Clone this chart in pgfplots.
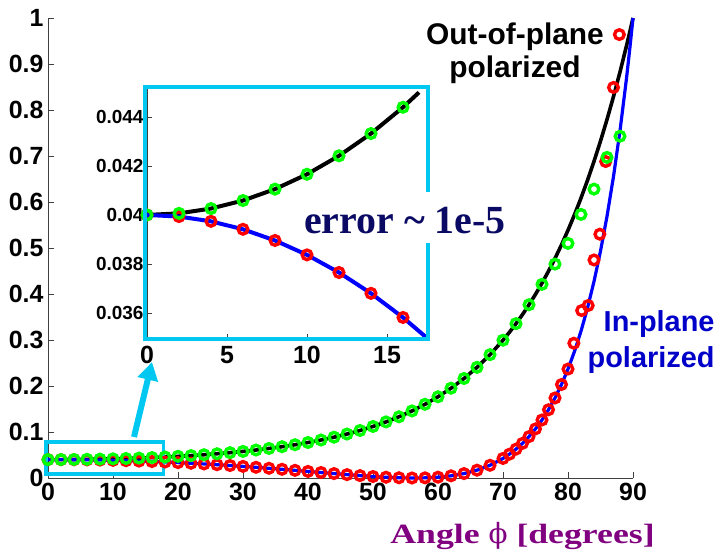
\documentclass[border=0pt]{standalone}
\usepackage{fontspec}
\setmainfont{Liberation Sans}
\newfontfamily\serif{Liberation Serif}
\newfontfamily\serifwide[FakeStretch=1.28]{Liberation Serif}
\newfontfamily\phifont{DejaVu Serif}
\usepackage{pgfplots}
\usepackage{pgfplotstable}
\pgfplotsset{compat=1.18}
\usetikzlibrary{arrows.meta}
\definecolor{cyanf}{RGB}{0,200,240}
\definecolor{navy}{RGB}{10,10,100}
\definecolor{purp}{RGB}{128,0,128}
\definecolor{inblue}{RGB}{0,0,200}
\definecolor{pgreen}{RGB}{0,255,0}
\definecolor{pred}{RGB}{255,0,0}
\definecolor{pblue}{RGB}{0,0,255}

% analytic out-of-plane (s) reflectance
\pgfplotstableread[row sep=\\]{
x y\\
0 0.04\\ 2 0.040065\\ 4 0.040261\\ 6 0.040589\\ 8 0.041054\\ 10 0.041660\\
12 0.042412\\ 14 0.043320\\ 16 0.044393\\ 18 0.045641\\ 20 0.047081\\
22 0.048727\\ 24 0.050598\\ 26 0.052715\\ 28 0.055105\\ 30 0.057796\\
32 0.060823\\ 34 0.064224\\ 36 0.068045\\ 38 0.072336\\ 40 0.077158\\
42 0.082579\\ 44 0.088681\\ 46 0.095552\\ 48 0.103300\\ 50 0.112048\\
52 0.121937\\ 54 0.133130\\ 56 0.145816\\ 58 0.160214\\ 60 0.176571\\
62 0.195183\\ 64 0.216380\\ 66 0.240542\\ 68 0.268114\\ 70 0.299594\\
71 0.316978\\ 72 0.335560\\ 73 0.355421\\ 74 0.376656\\ 75 0.399356\\
76 0.423623\\ 77 0.449562\\ 78 0.477290\\ 79 0.506927\\ 80 0.538596\\
81 0.572430\\ 82 0.608572\\ 83 0.647165\\ 84 0.688371\\ 85 0.732346\\
86 0.779263\\ 87 0.829300\\ 88 0.882640\\ 89 0.939475\\ 89.5 0.969262\\ 90 1\\
}\Rsline

% analytic in-plane (p) reflectance
\pgfplotstableread[row sep=\\]{
x y\\
0 0.04\\ 2 0.039935\\ 4 0.039740\\ 6 0.039415\\ 8 0.038959\\ 10 0.038371\\
12 0.037653\\ 14 0.036802\\ 16 0.035818\\ 18 0.034701\\ 20 0.033451\\
22 0.032069\\ 24 0.030555\\ 26 0.028911\\ 28 0.027141\\ 30 0.025249\\
32 0.023242\\ 34 0.021129\\ 36 0.018924\\ 38 0.016643\\ 40 0.014309\\
42 0.011954\\ 44 0.009615\\ 46 0.007342\\ 48 0.005202\\ 50 0.003278\\
52 0.001674\\ 54 0.000528\\ 56 0.0000104\\ 58 0.000342\\ 60 0.001802\\
62 0.004745\\ 64 0.009624\\ 66 0.017015\\ 68 0.027656\\ 70 0.042490\\
71 0.051847\\ 72 0.062731\\ 73 0.075349\\ 74 0.089939\\ 75 0.106765\\
76 0.126135\\ 77 0.148396\\ 78 0.173947\\ 79 0.203246\\ 80 0.236815\\
81 0.275253\\ 82 0.319251\\ 83 0.369613\\ 84 0.427260\\ 85 0.493253\\
86 0.568845\\ 87 0.655468\\ 88 0.754832\\ 89 0.868900\\ 89.5 0.932157\\ 90 1\\
}\Rpline

% simulated in-plane points (red)
\pgfplotstableread[row sep=\\]{
x y\\
0 0.04\\ 2 0.039935\\ 4 0.039740\\ 6 0.039415\\ 8 0.038959\\ 10 0.038371\\
12 0.037653\\ 14 0.036802\\ 16 0.035818\\ 18 0.034701\\ 20 0.033451\\
22 0.032069\\ 24 0.030555\\ 26 0.028911\\ 28 0.027141\\ 30 0.025249\\
32 0.023242\\ 34 0.021129\\ 36 0.018924\\ 38 0.016643\\ 40 0.014309\\
42 0.011954\\ 44 0.009615\\ 46 0.007342\\ 48 0.005202\\ 50 0.003278\\
52 0.001674\\ 54 0.000528\\ 56 0.0000104\\ 58 0.000342\\ 60 0.001802\\
62 0.004745\\ 64 0.009624\\ 66 0.017015\\ 68 0.027656\\ 70 0.042490\\
71 0.051847\\ 72 0.062731\\ 73 0.075349\\ 74 0.089939\\ 75 0.106765\\
76 0.126135\\ 77 0.148396\\ 78 0.173947\\ 79 0.203246\\ 80 0.236815\\
80.9 0.293\\ 82.1 0.364\\ 83.1 0.375\\ 84.0 0.474\\ 84.9 0.530\\
85.8 0.688\\ 87.0 0.849\\ 87.9 0.964\\
}\Rppts

% simulated out-of-plane points (green)
\pgfplotstableread[row sep=\\]{
x y\\
0 0.04\\ 2 0.040065\\ 4 0.040261\\ 6 0.040589\\ 8 0.041054\\ 10 0.041660\\
12 0.042412\\ 14 0.043320\\ 16 0.044393\\ 18 0.045641\\ 20 0.047081\\
22 0.048727\\ 24 0.050598\\ 26 0.052715\\ 28 0.055105\\ 30 0.057796\\
32 0.060823\\ 34 0.064224\\ 36 0.068045\\ 38 0.072336\\ 40 0.077158\\
42 0.082579\\ 44 0.088681\\ 46 0.095552\\ 48 0.103300\\ 50 0.112048\\
52 0.121937\\ 54 0.133130\\ 56 0.145816\\ 58 0.160214\\ 60 0.176571\\
62 0.195183\\ 64 0.216380\\ 66 0.240542\\ 68 0.268114\\ 70 0.299594\\
72 0.335560\\ 74 0.376656\\ 76 0.421\\ 78 0.465\\ 80 0.510\\
82 0.573\\ 84 0.628\\ 86 0.697\\ 88 0.743\\
}\Rspts

% inset lines
\pgfplotstableread[row sep=\\]{
x y\\
0 0.04\\ 2 0.040065\\ 4 0.040261\\ 6 0.040589\\ 8 0.041054\\ 10 0.041660\\
12 0.042412\\ 14 0.043320\\ 16 0.044393\\ 17 0.045000\\
}\RsIn
\pgfplotstableread[row sep=\\]{
x y\\
0 0.04\\ 2 0.039935\\ 4 0.039740\\ 6 0.039415\\ 8 0.038959\\ 10 0.038371\\
12 0.037653\\ 14 0.036802\\ 16 0.035818\\ 18 0.034701\\
}\RpIn
\pgfplotstableread[row sep=\\]{
x y\\
0 0.04\\ 2 0.039935\\ 4 0.039740\\ 6 0.039415\\ 8 0.038959\\ 10 0.038371\\
12 0.037653\\ 14 0.036802\\ 16 0.035818\\
}\RpInPts
\pgfplotstableread[row sep=\\]{
x y\\
0 0.04\\ 2 0.040065\\ 4 0.040261\\ 6 0.040589\\ 8 0.041054\\ 10 0.041660\\
12 0.042412\\ 14 0.043320\\ 16 0.044393\\
}\RsInPts

\begin{document}
\begin{tikzpicture}
\begin{axis}[
  at={(0,0)}, anchor=south west, scale only axis,
  width=585bp, height=460bp,
  xmin=0, xmax=90, ymin=0, ymax=1,
  axis x line*=bottom, axis y line*=left,
  axis line style={draw=black!75, line width=0.8bp},
  tick align=inside, major tick length=6bp,
  tick style={draw=black!75, line width=0.8bp},
  xtick={0,10,20,30,40,50,60,70,80,90},
  xticklabels={0,10,20,30,40,50,60,70,80,90},
  ytick={0,0.1,0.2,0.3,0.4,0.5,0.6,0.7,0.8,0.9,1},
  yticklabels={0,0.1,0.2,0.3,0.4,0.5,0.6,0.7,0.8,0.9,1},
  ticklabel style={font=\fontsize{25}{25}\selectfont\bfseries},
  xticklabel style={yshift=-2bp},
  yticklabel style={xshift=-1bp},
  clip=false,
]
\addplot[black, line width=3.6bp] table[x=x,y=y]{\Rsline};
\addplot[pblue, line width=3.2bp] table[x=x,y=y]{\Rpline};
\addplot[only marks, mark=o, mark size=4.8bp, pred, mark options={line width=3.4bp}] table[x=x,y=y]{\Rppts};
\addplot[only marks, mark=o, mark size=4.8bp, pgreen, mark options={line width=3.4bp}] table[x=x,y=y]{\Rspts};
\draw[cyanf, line width=3.5bp] (axis cs:-0.3,0.0087) rectangle (axis cs:17.8,0.078);
\end{axis}

\draw[cyanf, line width=6bp, -{Triangle[length=18bp,width=20bp]}] (86bp,41bp) -- (104bp,116bp);

\begin{axis}[
  at={(99bp,139bp)}, anchor=south west, scale only axis,
  width=280bp, height=252bp,
  xmin=0, xmax=17.5, ymin=0.03494, ymax=0.04522,
  axis x line*=bottom, axis y line*=left,
  axis background/.style={fill=white},
  axis line style={draw=black!75, line width=0.8bp},
  tick align=inside, major tick length=5bp,
  tick style={draw=black!75, line width=0.8bp},
  scaled y ticks=false, scaled x ticks=false,
  xtick={0,5,10,15}, xticklabels={0,5,10,15},
  ytick={0.036,0.038,0.04,0.042,0.044},
  yticklabels={0.036,0.038,0.04,0.042,0.044},
  xticklabel style={font=\fontsize{25}{25}\selectfont\bfseries, yshift=-4bp},
  yticklabel style={font=\fontsize{19}{19}\selectfont\bfseries},
  clip mode=individual,
]
\addplot[black, line width=4bp] table[x=x,y=y]{\RsIn};
\addplot[pblue, line width=4bp] table[x=x,y=y]{\RpIn};
\addplot[only marks, mark=o, mark size=4.8bp, pred, mark options={line width=3.4bp}] table[x=x,y=y]{\RpInPts};
\addplot[only marks, mark=o, mark size=4.8bp, pgreen, mark options={line width=3.4bp}] table[x=x,y=y]{\RsInPts};
\end{axis}

\draw[cyanf, line width=4bp] (97bp,139bp) rectangle (380bp,391bp);

\node[fill=white, inner xsep=3bp, inner ysep=10bp, text height=31bp, text depth=0bp,
      anchor=base, text=navy, font=\serif\bfseries\fontsize{40}{40}\selectfont]
      at (357bp,244.7bp) {error \textasciitilde{} 1e-5};

\node[anchor=base, font=\fontsize{30}{30}\selectfont\bfseries] at (467bp,433.7bp) {Out-of-plane};
\node[anchor=base, font=\fontsize{30}{30}\selectfont\bfseries] at (467bp,400bp) {polarized};

\node[anchor=base east, text=inblue, font=\fontsize{29}{29}\selectfont\bfseries] at (670bp,146bp) {In-plane};
\node[anchor=base east, text=inblue, font=\fontsize{29}{29}\selectfont\bfseries] at (670bp,110bp) {polarized};

\node[anchor=base, text=purp, font=\serifwide\bfseries\fontsize{28}{28}\selectfont] at (474.5bp,-65bp) {Angle {\phifont\mdseries ϕ} [degrees]};

\pgfresetboundingbox
\useasboundingbox (-48bp,-77bp) rectangle (680bp,478bp);
\end{tikzpicture}
\end{document}
